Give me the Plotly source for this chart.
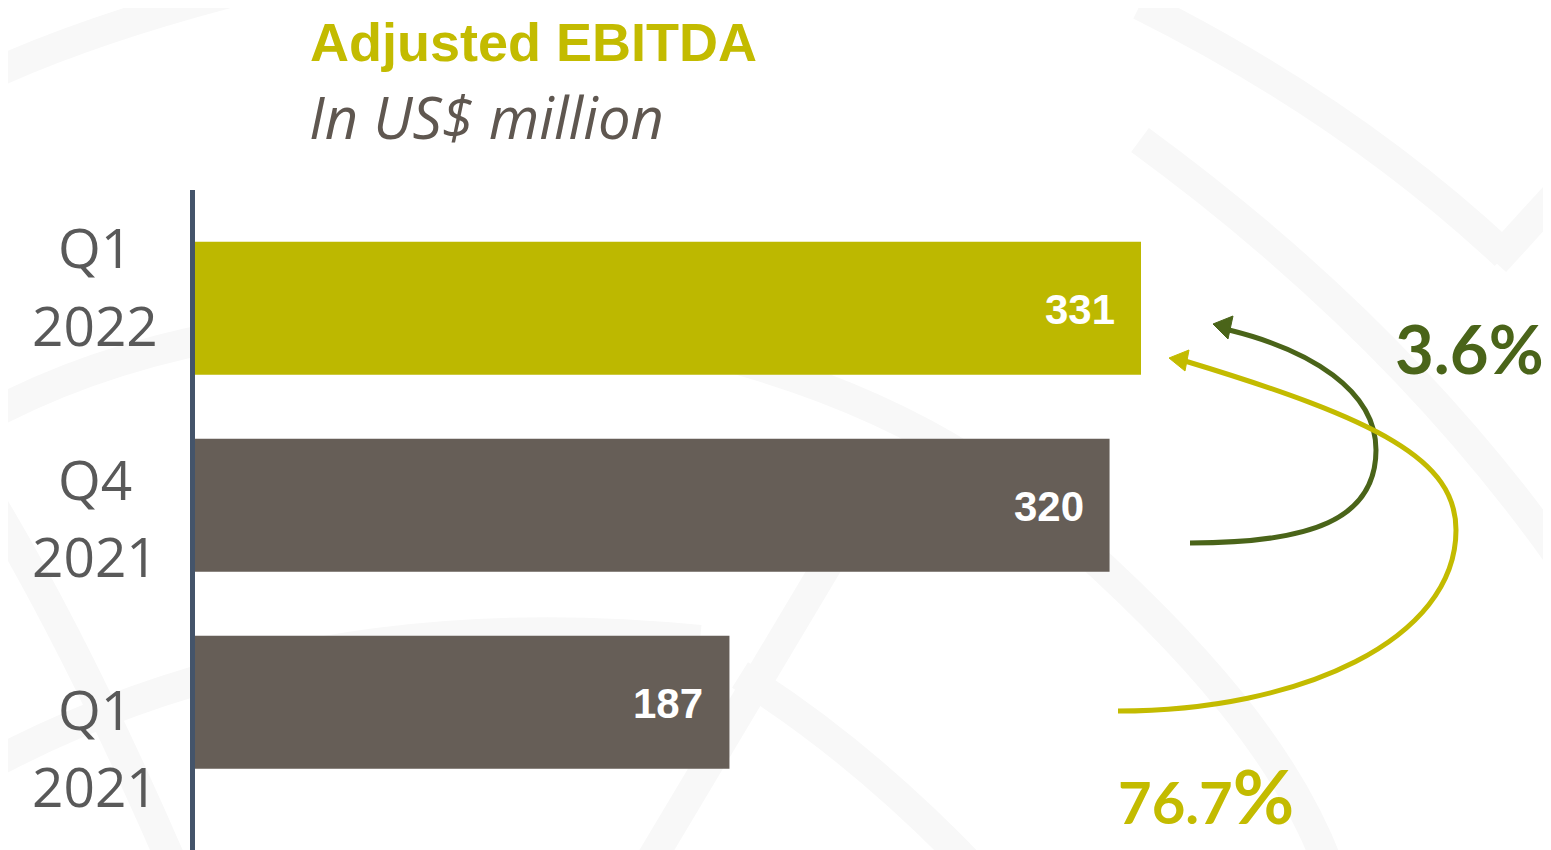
import plotly.graph_objects as go

# ---- data ----
categories = ["Q1 2022", "Q4 2021", "Q1 2021"]
label_line1 = ["Q1", "Q4", "Q1"]
label_line2 = ["2022", "2021", "2021"]
values = [331, 320, 187]
bar_colors = ["#BDB800", "#665E57", "#665E57"]
growth_labels = ["3.6%", "76.7"]

# page has an 8px body margin: figure pixel = screen pixel - 8
W, H = 1551, 850
ML, MR, MT, MB = 187, 8, 182, 8
PW, PH = W - ML - MR, H - MT - MB  # 1356 x 660


def px(sx):
    # screen x -> paper x
    return (sx - 8 - ML) / PW


def py(sy):
    # screen y -> paper y
    return (H - MB - (sy - 8)) / PH


def path(cmds, close=False):
    out = []
    for cmd, pts in cmds:
        out.append(cmd + " " + " ".join(f"{px(a):.5f},{py(b):.5f}" for a, b in pts))
    s = " ".join(out)
    return s + (" Z" if close else "")


fig = go.Figure()
fig.add_trace(go.Bar(
    x=values, y=categories, orientation="h",
    marker=dict(color=bar_colors, line=dict(width=0)),
    width=0.675, hoverinfo="skip", showlegend=False,
))

annotations = []
for c, v in zip(categories, values):
    annotations.append(dict(
        x=v, y=c, xref="x", yref="y", text=f"<b>{v}</b>", showarrow=False,
        xanchor="right", yanchor="middle", xshift=-24, yshift=-1,
        font=dict(family="Liberation Sans", size=42, color="white"),
    ))

line1_y = [247, 478, 708]
line2_y = [324, 555, 785]
for l1, l2, y1, y2 in zip(label_line1, label_line2, line1_y, line2_y):
    for t, yy in ((l1, y1), (l2, y2)):
        annotations.append(dict(
            x=px(95), y=py(yy), xref="paper", yref="paper", text=t, showarrow=False,
            xanchor="center", yanchor="middle",
            font=dict(family="Open Sans", size=55, color="#595959"),
        ))

annotations.append(dict(
    x=px(309), y=py(42), xref="paper", yref="paper", text="<b>Adjusted EBITDA</b>",
    showarrow=False, xanchor="left", yanchor="middle", borderpad=0,
    font=dict(family="Liberation Sans", size=54, color="#C3BB00"),
))
annotations.append(dict(
    x=px(307), y=py(116), xref="paper", yref="paper", text="<i>In US$ million</i>",
    showarrow=False, xanchor="left", yanchor="middle",
    font=dict(family="Open Sans", size=58, color="#5F5750"),
))

annotations.append(dict(
    x=px(1546), y=py(348), xref="paper", yref="paper", text=f"<b>{growth_labels[0]}</b>",
    showarrow=False, xanchor="right", yanchor="middle",
    font=dict(family="Lato", size=67, color="#4A6419"),
))
annotations.append(dict(
    x=px(1116), y=py(795), xref="paper", yref="paper",
    text=f"<b>{growth_labels[1]}<span style='font-size:75px'>%</span></b>",
    showarrow=False, xanchor="left", yanchor="middle",
    font=dict(family="Lato", size=58, color="#C3BB00"),
))

shapes = []
# faint decorative background bands
band = dict(color="#F8F8F8", width=30)
bands = [
    [("M", [(-10, 75)]), ("Q", [(100, 25), (260, -15)])],
    [("M", [(-10, 415)]), ("C", [(300, 250), (800, 300), (1050, 520)]), ("C", [(1200, 650), (1290, 760), (1330, 870)])],
    [("M", [(-10, 500)]), ("Q", [(80, 650), (175, 870)])],
    [("M", [(-10, 765)]), ("Q", [(300, 600), (700, 640)])],
    [("M", [(645, 870)]), ("L", [(830, 560)])],
    [("M", [(740, 675)]), ("Q", [(860, 750), (975, 870)])],
    [("M", [(1140, 5)]), ("Q", [(1350, 110), (1505, 255)])],
    [("M", [(1495, 262)]), ("L", [(1565, 185)])],
    [("M", [(1140, 140)]), ("Q", [(1400, 330), (1565, 565)])],
]
for b in bands:
    shapes.append(dict(type="path", xref="paper", yref="paper", path=path(b),
                       line=band, fillcolor="rgba(0,0,0,0)", layer="below"))

green = "#4A6419"
olive = "#C3BB00"
shapes.append(dict(
    type="path", xref="paper", yref="paper",
    path=path([("M", [(1190, 543)]),
               ("C", [(1310, 543), (1376, 520), (1376, 450)]),
               ("C", [(1376, 390), (1310, 350), (1229, 330)])]),
    line=dict(color=green, width=5), fillcolor="rgba(0,0,0,0)",
))
shapes.append(dict(
    type="path", xref="paper", yref="paper",
    path=path([("M", [(1213, 324)]), ("L", [(1233, 316)]), ("L", [(1228, 339)])], close=True),
    line=dict(color=green, width=1), fillcolor=green,
))
shapes.append(dict(
    type="path", xref="paper", yref="paper",
    path=path([("M", [(1118, 711)]),
               ("C", [(1300, 711), (1456, 640), (1456, 530)]),
               ("C", [(1456, 460), (1380, 420), (1185, 361)])]),
    line=dict(color=olive, width=5), fillcolor="rgba(0,0,0,0)",
))
shapes.append(dict(
    type="path", xref="paper", yref="paper",
    path=path([("M", [(1169, 358)]), ("L", [(1189, 350)]), ("L", [(1185, 371)])], close=True),
    line=dict(color=olive, width=1), fillcolor=olive,
))

fig.update_layout(
    width=W, height=H,
    margin=dict(l=ML, r=MR, t=MT, b=MB),
    paper_bgcolor="white", plot_bgcolor="rgba(0,0,0,0)",
    xaxis=dict(range=[0, PW / 2.858], visible=False, showgrid=False, zeroline=False, fixedrange=True),
    yaxis=dict(
        type="category", categoryorder="array", categoryarray=categories,
        range=[2.75, -0.6], showticklabels=False, ticks="", showgrid=False, zeroline=False,
        showline=True, linecolor="#44546A", linewidth=5,
    ),
    annotations=annotations, shapes=shapes,
    bargap=0.3,
)

fig.write_html("out.html")
